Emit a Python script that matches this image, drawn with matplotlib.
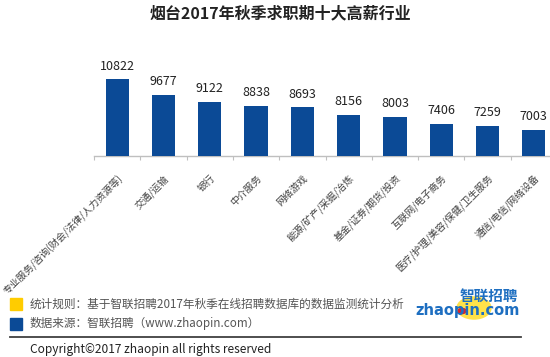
import numpy as np
import matplotlib.pyplot as plt
from matplotlib.patches import Rectangle, Circle

plt.rcParams['font.family'] = ['Noto Sans CJK SC', 'DejaVu Sans']

industries = ['专业服务/咨询(财会/法律/人力资源等)', '交通/运输', '银行', '中介服务', '网络游戏',
              '能源/矿产/采掘/冶炼', '基金/证券/期货/投资', '互联网/电子商务',
              '医疗/护理/美容/保健/卫生服务', '通信/电信/网络设备']
salaries = [10822, 9677, 9122, 8838, 8693, 8156, 8003, 7406, 7259, 7003]

title = '烟台2017年秋季求职期十大高薪行业'
note_rule = '统计规则：基于智联招聘2017年秋季在线招聘数据库的数据监测统计分析'
note_src = '数据来源：智联招聘（www.zhaopin.com）'
copyright_txt = 'Copyright©2017 zhaopin all rights reserved'

W, H = 550, 357
bar_color = '#0B4A96'

fig = plt.figure(figsize=(5.5, 3.57), dpi=100)
# axes from x=94 to 557 px, y=64 to 156 px
ax = fig.add_axes([94 / W, 1 - 156 / H, 463 / W, 92 / H])
x = np.arange(len(industries))
ax.bar(x, salaries, width=0.5, color=bar_color, zorder=3)
ax.set_ylim(5000, 12000)
ax.set_xlim(-0.5, len(industries) - 0.5)

for s in ['top', 'right', 'left']:
    ax.spines[s].set_visible(False)
ax.spines['bottom'].set_color('#BFBFBF')
ax.spines['bottom'].set_linewidth(1)
ax.set_yticks([])

# tick marks at category boundaries
ax.set_xticks(np.arange(len(industries) + 1) - 0.5, minor=False)
ax.tick_params(axis='x', which='major', length=3, color='#BFBFBF', labelbottom=False)
ax.set_xticks(x, minor=True)
ax.set_xticklabels(industries, minor=True, rotation=45, ha='right',
                   rotation_mode='anchor', fontsize=7, color='#404040')
ax.tick_params(axis='x', which='minor', length=0, pad=12)

for xi, v in zip(x, salaries):
    ax.annotate(f'{v}', (xi, v), xytext=(0, 5), textcoords='offset points',
                ha='center', va='bottom', fontsize=9, color='#222222')

fig.text(280 / W, 1 - 13 / H, title, ha='center', va='center',
         fontsize=11.5, fontweight='bold', color='#222222')

# footer
fig.patches.append(Rectangle((10 / W, 1 - 310 / H), 12 / W, 12 / H,
                             transform=fig.transFigure, color='#FFCC00'))
fig.patches.append(Rectangle((10 / W, 1 - 330 / H), 12 / W, 12 / H,
                             transform=fig.transFigure, color='#0B4A96'))
fig.text(30 / W, 1 - 304 / H, note_rule, ha='left', va='center', fontsize=8.4, color='#555555')
fig.text(30 / W, 1 - 324 / H, note_src, ha='left', va='center', fontsize=8.4, color='#555555')
fig.add_artist(plt.Line2D([10 / W, 521 / W], [1 - 337 / H, 1 - 337 / H],
                          transform=fig.transFigure, color='#404040', lw=1.3))
fig.text(30 / W, 1 - 349 / H, copyright_txt, ha='left', va='center', fontsize=8.6, color='#222222')

# logo
fig.patches.append(Circle((474 / W, 1 - 308 / H), 17 / W, transform=fig.transFigure,
                          color='#FFE24A'))
fig.patches.append(Circle((462 / W, 1 - 311 / H), 4 / W, transform=fig.transFigure,
                          color='#D7262B'))
fig.text(489 / W, 1 - 296 / H, '智联招聘', ha='center', va='center', fontsize=10.5,
         fontweight='bold', style='italic', color='#1E6FC1')
fig.text(468 / W, 1 - 311 / H, 'zhaopin.com', ha='center', va='center', fontsize=10.5,
         fontweight='bold', color='#1E6FC1', family='DejaVu Sans')

fig.savefig('out.png', dpi=100)
